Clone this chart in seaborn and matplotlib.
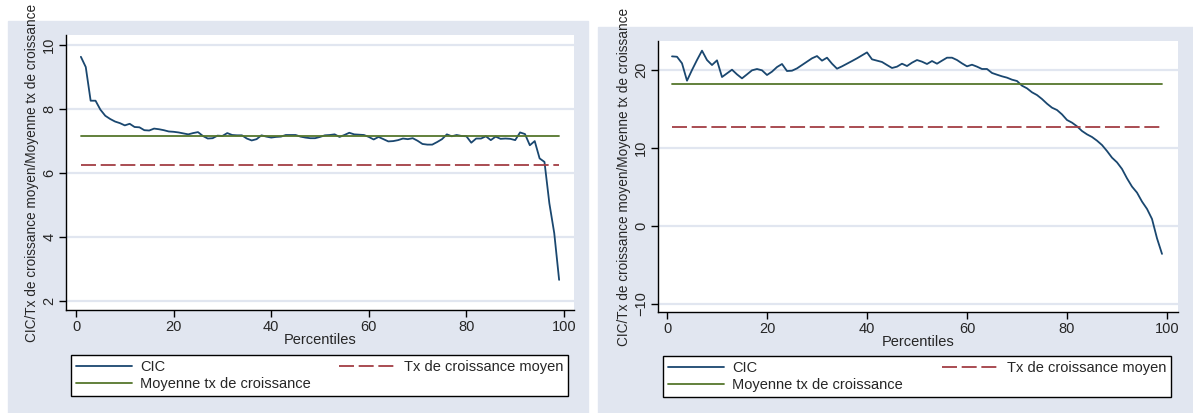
import matplotlib.pyplot as plt
import seaborn as sns
import pandas as pd
from matplotlib.patches import Rectangle

# percentiles 1..99
percentiles = list(range(1, 100))

cic_left = [9.62, 9.30, 8.25, 8.25, 7.97, 7.78, 7.68, 7.60, 7.55, 7.48,
            7.53, 7.43, 7.42, 7.33, 7.32, 7.38, 7.36, 7.33, 7.29, 7.28,
            7.26, 7.23, 7.20, 7.24, 7.27, 7.15, 7.07, 7.08, 7.16, 7.15,
            7.24, 7.18, 7.17, 7.17, 7.07, 7.01, 7.05, 7.17, 7.13, 7.10,
            7.12, 7.13, 7.18, 7.18, 7.18, 7.13, 7.10, 7.08, 7.08, 7.12,
            7.17, 7.18, 7.20, 7.12, 7.18, 7.25, 7.20, 7.19, 7.18, 7.12,
            7.04, 7.12, 7.05, 6.98, 6.99, 7.02, 7.07, 7.05, 7.08, 7.00,
            6.90, 6.88, 6.88, 6.96, 7.05, 7.20, 7.14, 7.18, 7.15, 7.14,
            6.94, 7.07, 7.07, 7.14, 7.02, 7.13, 7.06, 7.07, 7.06, 7.02,
            7.26, 7.21, 6.86, 6.99, 6.45, 6.34, 5.05, 4.12, 2.66]

cic_right = [21.75, 21.70, 20.86, 18.63, 20.00, 21.28, 22.48, 21.28, 20.64, 21.24,
             19.10, 19.57, 20.04, 19.44, 18.93, 19.44, 19.96, 20.13, 19.96, 19.36,
             19.79, 20.38, 20.77, 19.87, 19.91, 20.21, 20.64, 21.07, 21.50, 21.79,
             21.20, 21.58, 20.81, 20.17, 20.47, 20.81, 21.15, 21.50, 21.88, 22.26,
             21.37, 21.20, 21.03, 20.64, 20.26, 20.43, 20.81, 20.51, 20.94, 21.28,
             21.07, 20.77, 21.15, 20.81, 21.20, 21.58, 21.58, 21.28, 20.85, 20.47,
             20.68, 20.43, 20.13, 20.13, 19.62, 19.40, 19.19, 19.02, 18.76, 18.59,
             17.99, 17.65, 17.14, 16.79, 16.28, 15.68, 15.17, 14.87, 14.31, 13.59,
             13.25, 12.78, 12.18, 11.75, 11.41, 10.94, 10.38, 9.61, 8.76, 8.16,
             7.31, 6.11, 5.05, 4.28, 3.13, 2.19, 0.90, -1.58, -3.58]

tx_moyen_left = 6.23
moy_tx_left = 7.15
tx_moyen_right = 12.75
moy_tx_right = 18.2

xticks = [0, 20, 40, 60, 80, 100]
yticks_left = [2, 4, 6, 8, 10]
yticks_right = [-10, 0, 10, 20]

ylabel = "CIC/Tx de croissance moyen/Moyenne tx de croissance"
xlabel = "Percentiles"
lab_cic = "CIC"
lab_tx = "Tx de croissance moyen"
lab_moy = "Moyenne tx de croissance"

BG = "#E1E6F0"
NAVY = "#1A476F"
MAROON = "#A23E44"
GREEN = "#55762C"
DASH = (8.3, 2.6)

sns.set_theme(style="white")
plt.rcParams["font.family"] = ["Liberation Sans", "DejaVu Sans"]

W, H = 1193, 413
fig = plt.figure(figsize=(W / 100, H / 100), dpi=100)


def px(l, t, r, b):
    return [l / W, 1 - b / H, (r - l) / W, (b - t) / H]


fig.patches.append(Rectangle((8 / W, 0), 580 / W, (H - 21) / H,
                             transform=fig.transFigure, color=BG, zorder=-5))
fig.patches.append(Rectangle((598 / W, 0), 595 / W, (H - 27) / H,
                             transform=fig.transFigure, color=BG, zorder=-5))


def panel(box, legbox, cic, tx, moy, yticks, xlim, ylim):
    ax = fig.add_axes(px(*box))
    ax.set_facecolor("white")
    ends = [percentiles[0], percentiles[-1]]
    d = pd.DataFrame({"p": percentiles, "cic": cic})
    for v in yticks:
        ax.axhline(v, color=BG, lw=1.6, zorder=0)
    sns.lineplot(data=d, x="p", y="cic", ax=ax, color=NAVY, lw=1.3, label=lab_cic)
    sns.lineplot(x=ends, y=[moy, moy], ax=ax, color=GREEN, lw=1.3, label=lab_moy)
    sns.lineplot(x=ends, y=[tx, tx], ax=ax, color=MAROON, lw=1.3, label=lab_tx)
    ax.lines[-1].set_dashes(DASH)
    ax.set_xlim(*xlim)
    ax.set_ylim(*ylim)
    ax.set_xticks(xticks)
    ax.set_yticks(yticks)
    ax.set_xlabel(xlabel, fontsize=10.5, labelpad=0)
    ax.set_ylabel(ylabel, fontsize=9.8)
    ax.xaxis.set_label_coords(0.5, -0.085)
    ax.yaxis.set_label_coords(-27 / (box[2] - box[0]), 0.5)
    for s in ["top", "right"]:
        ax.spines[s].set_visible(False)
    for s in ["left", "bottom"]:
        ax.spines[s].set_color("black")
        ax.spines[s].set_linewidth(1.0)
    ax.tick_params(axis="both", direction="out", length=5, width=1,
                   color="black", labelsize=10.5, pad=2, left=True, bottom=True)
    for t in ax.get_yticklabels():
        t.set_rotation(90)
        t.set_va("center")
    h, l = ax.get_legend_handles_labels()
    h[2].set_dashes(DASH)
    lx0, ly0, lx1, ly1 = legbox
    leg = ax.legend(h, l, ncol=2, loc="upper left",
                    bbox_to_anchor=(lx0 / W, 1 - ly0 / H, (lx1 - lx0) / W, 0.001),
                    bbox_transform=fig.transFigure, mode="expand", borderaxespad=0,
                    fontsize=10.5, handlelength=3.8, handletextpad=0.6,
                    columnspacing=1.5, labelspacing=0.25, borderpad=0.35,
                    fancybox=False, framealpha=1, edgecolor="black")
    leg.get_frame().set_linewidth(1.0)
    return ax


panel((66, 35, 574, 310), (71, 355, 568, 400), cic_left, tx_moyen_left,
      moy_tx_left, yticks_left, (-2.05, 102.05), (1.72, 10.3))
panel((658, 41, 1178, 312), (663, 356, 1171, 400), cic_right, tx_moyen_right,
      moy_tx_right, yticks_right, (-1.8, 102.2), (-11.03, 23.72))

fig.savefig("out.png", dpi=100)
